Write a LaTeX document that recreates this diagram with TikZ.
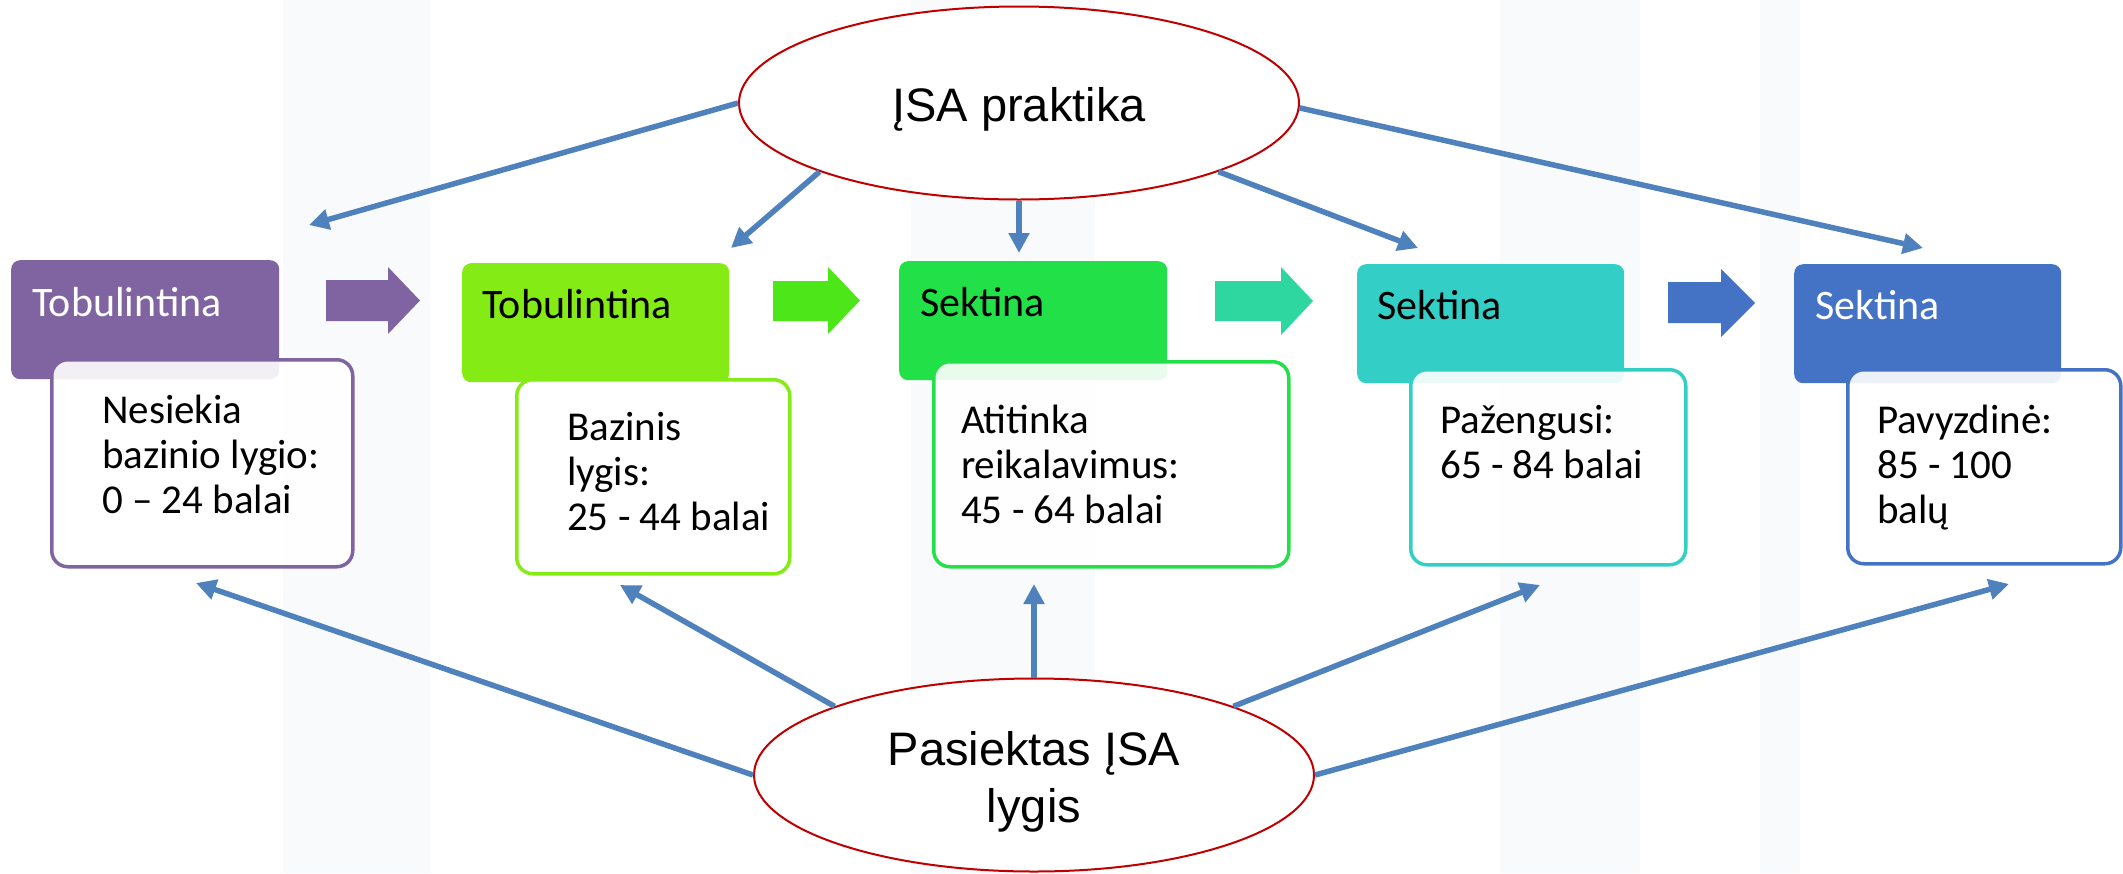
\documentclass[tikz,border=0pt]{standalone}
\usepackage{fontspec}
\setmainfont{Carlito}
\newfontfamily\arialf{Liberation Sans}
\usetikzlibrary{shapes.geometric,arrows.meta}
\definecolor{cpurple}{HTML}{8064A2}
\definecolor{clime}{HTML}{84EC14}
\definecolor{cgreen}{HTML}{22E048}
\definecolor{cteal}{HTML}{33CFC6}
\definecolor{cblue}{HTML}{4472C4}
\definecolor{carrtwo}{HTML}{4CE619}
\definecolor{carrthree}{HTML}{2ED6A0}
\definecolor{cline}{HTML}{4F81BD}
\definecolor{cred}{HTML}{C00000}
\definecolor{cwm}{HTML}{F9FAFC}
\begin{document}
\begin{tikzpicture}[x=1pt,y=-1pt,
 hdr/.style={rounded corners=9pt, anchor=north west, inner sep=0pt},
 bodybox/.style={draw, line width=3.5pt, rounded corners=16pt, fill=white, fill opacity=0.9, anchor=north west, inner sep=0pt},
 htxt/.style={font=\fontsize{42}{48}\selectfont, anchor=base west, inner sep=0pt},
 btxt/.style={font=\fontsize{41}{45}\selectfont, anchor=base west, inner sep=0pt},
 bubble/.style={ellipse, draw=cred, line width=2pt, fill=white, minimum width=560pt, minimum height=193pt, inner sep=0pt},
 bubtxt/.style={font=\arialf\fontsize{47}{57}\selectfont, inner sep=0pt, anchor=base},
 conn/.style={draw=cline, line width=5.5pt, -{Triangle[length=20pt,width=20pt]}},
]
\useasboundingbox (0,0) rectangle (2123,873);
\fill[white] (0,0) rectangle (2123,873);
% faint watermark
\fill[cwm] (283,0) rectangle (430,873);
\fill[cwm] (911,0) rectangle (1095,873);
\fill[cwm] (1500,0) rectangle (1640,873);
\fill[cwm] (1760,0) rectangle (1800,873);

% block arrows
\fill[cpurple] (326,280) -- (388,280) -- (388,267) -- (420,300.5) -- (388,334) -- (388,321) -- (326,321) -- cycle;
\fill[carrtwo] (773,281) -- (828,281) -- (828,267) -- (860,300.5) -- (828,334) -- (828,321) -- (773,321) -- cycle;
\fill[carrthree] (1215,281) -- (1281,281) -- (1281,267) -- (1313,301) -- (1281,335) -- (1281,321) -- (1215,321) -- cycle;
\fill[cblue] (1668,282) -- (1721,282) -- (1721,269) -- (1755,303) -- (1721,337) -- (1721,323) -- (1668,323) -- cycle;

% headers
\node[hdr, fill=cpurple, minimum width=268pt, minimum height=119pt] (h1) at (11,260) {};
\node[hdr, fill=clime, minimum width=267pt, minimum height=119pt] (h2) at (462,263) {};
\node[hdr, fill=cgreen, minimum width=268pt, minimum height=119pt] (h3) at (899,261) {};
\node[hdr, fill=cteal, minimum width=267pt, minimum height=119pt] (h4) at (1357,264) {};
\node[hdr, fill=cblue, minimum width=267pt, minimum height=119pt] (h5) at (1794,264) {};
\node[htxt, text=white] (ht1) at (32,316) {Tobulintina};
\node[htxt] (ht2) at (482,318) {Tobulintina};
\node[htxt] (ht3) at (920,316) {Sektina};
\node[htxt] (ht4) at (1377,319) {Sektina};
\node[htxt, text=white] (ht5) at (1815,319) {Sektina};

% bodies
\node[bodybox, draw=cpurple, minimum width=301pt, minimum height=207pt] (b1) at (50,358) {};
\node[bodybox, draw=clime, minimum width=273pt, minimum height=194pt] (b2) at (515,378) {};
\node[bodybox, draw=cgreen, minimum width=355pt, minimum height=205pt] (b3) at (932,360) {};
\node[bodybox, draw=cteal, minimum width=275pt, minimum height=195pt] (b4) at (1409,368) {};
\node[bodybox, draw=cblue, minimum width=273pt, minimum height=194pt] (b5) at (1846,368) {};
\node[btxt] (bt1) at (102,423) {\vtop{\hbox{Nesiekia}\hbox{bazinio lygio:}\hbox{0 – 24 balai}}};
\node[btxt] (bt2) at (567,440) {\vtop{\hbox{Bazinis}\hbox{lygis:}\hbox{25 - 44 balai}}};
\node[btxt] (bt3) at (961,433) {\vtop{\hbox{Atitinka}\hbox{reikalavimus:}\hbox{45 - 64 balai}}};
\node[btxt] (bt4) at (1440,433) {\vtop{\hbox{Pažengusi:}\hbox{65 - 84 balai}}};
\node[btxt] (bt5) at (1877,433) {\vtop{\hbox{Pavyzdinė:}\hbox{85 - 100}\hbox{balų}}};

% ellipses
\node[bubble] (top) at (1019,103) {};
\node[bubtxt] (toptxt) at (1019,121) {ĮSA praktika};
\node[bubble] (bot) at (1034,775) {};
\node[bubtxt] (bottxt) at (1034,765) {\vtop{\halign{\hfil#\hfil\cr Pasiektas ĮSA\cr lygis\cr}}};

% tips
\coordinate (t1) at (309,225);
\coordinate (t2) at (731,248);
\coordinate (t3) at (1019,253);
\coordinate (t4) at (1418,248);
\coordinate (t5) at (1923,248);
\coordinate (u1) at (196,583);
\coordinate (u2) at (620,585);
\coordinate (u3) at (1034,584);
\coordinate (u4) at (1540,585);
\coordinate (u5) at (2009,584);

\draw[conn] (top.180) -- (t1);
\draw[conn] (top.199) -- (t2);
\draw[conn] (top.270) -- (t3);
\draw[conn] (top.341) -- (t4);
\draw[conn] (top.359) -- (t5);
\draw[conn] (bot.180) -- (u1);
\draw[conn] (bot.161) -- (u2);
\draw[conn] (bot.90) -- (u3);
\draw[conn] (bot.19) -- (u4);
\draw[conn] (bot.0) -- (u5);
\end{tikzpicture}
\end{document}
